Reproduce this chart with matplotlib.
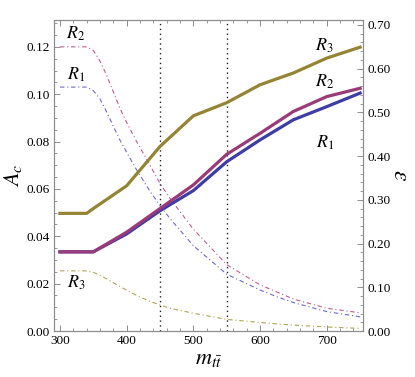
import numpy as np
import matplotlib
matplotlib.use('Agg')
import matplotlib.pyplot as plt

plt.rcParams['font.family'] = ['Liberation Serif', 'DejaVu Serif']
plt.rcParams['mathtext.fontset'] = 'stix'

# asymmetry A_c (left axis, dash-dot curves)
m_ac = [300, 340, 350, 360, 370, 380, 390, 400, 415, 435, 450, 465, 500, 550, 600, 625, 650, 700, 750]
ac_r1 = [0.103, 0.103, 0.1015, 0.098, 0.0925, 0.0865, 0.0806, 0.0755, 0.068, 0.059, 0.053, 0.0475, 0.036, 0.024, 0.0173, 0.0145, 0.012, 0.0082, 0.006]
ac_r2 = [0.120, 0.120, 0.1185, 0.114, 0.108, 0.101, 0.094, 0.088, 0.080, 0.070, 0.0623, 0.056, 0.043, 0.028, 0.0195, 0.0165, 0.0135, 0.0096, 0.0077]
ac_r3 = [0.0254, 0.0254, 0.0248, 0.0235, 0.022, 0.0204, 0.0188, 0.0172, 0.015, 0.0125, 0.011, 0.0096, 0.0075, 0.0049, 0.0036, 0.003, 0.0025, 0.0017, 0.0011]

# efficiency epsilon (right axis, solid curves)
m_eps = [300, 340, 350, 400, 450, 500, 550, 600, 650, 700, 750]
eps_r1 = [0.181, 0.181, 0.181, 0.222, 0.275, 0.321, 0.387, 0.437, 0.483, 0.513, 0.544]
eps_r2 = [0.181, 0.181, 0.181, 0.226, 0.280, 0.334, 0.404, 0.452, 0.502, 0.536, 0.555]
eps_r3 = [0.269, 0.269, 0.280, 0.332, 0.422, 0.492, 0.522, 0.563, 0.590, 0.624, 0.649]

cuts = [450, 550]

c_blue = '#3d3da6'
c_purp = '#9b3a78'
c_oliv = '#958433'
d_blue = '#6a6ad0'
d_purp = '#c45a90'
d_oliv = '#b3a455'
frame = '#8c8c8c'

fig = plt.figure(figsize=(4.15, 3.77), dpi=100)
ax = fig.add_axes([0.130, 0.122, 0.745, 0.826])
ax2 = ax.twinx()

dash = (0, (4, 2.5, 1, 2.5))
ax.plot(m_ac, ac_r1, color=d_blue, lw=0.8, linestyle=dash)
ax.plot(m_ac, ac_r2, color=d_purp, lw=0.8, linestyle=dash)
ax.plot(m_ac, ac_r3, color=d_oliv, lw=0.8, linestyle=dash)

for c in cuts:
    ax.axvline(c, color='#222222', lw=1.0, linestyle=(0, (1, 2.5)))

ax2.plot(m_eps, eps_r3, color=c_oliv, lw=2.3, solid_joinstyle='round')
ax2.plot(m_eps, eps_r1, color=c_blue, lw=2.3, solid_joinstyle='round')
ax2.plot(m_eps, eps_r2, color=c_purp, lw=2.3, solid_joinstyle='round')

ax.set_xlim(291, 754.5)
ax.set_ylim(0, 0.1315)
ax2.set_ylim(0, 0.712)

ax.set_xticks([300, 400, 500, 600, 700])
ax.set_xticks(np.arange(300, 760, 20), minor=True)
ax.set_yticks(np.arange(0, 0.121, 0.02))
ax.set_yticklabels(['%.2f' % v for v in np.arange(0, 0.121, 0.02)])
ax.set_yticks(np.arange(0, 0.131, 0.005), minor=True)
ax2.set_yticks(np.arange(0, 0.71, 0.1))
ax2.set_yticklabels(['%.2f' % v for v in np.arange(0, 0.71, 0.1)])
ax2.set_yticks(np.arange(0, 0.711, 0.02), minor=True)

for a in (ax, ax2):
    for s in a.spines.values():
        s.set_color(frame)
        s.set_linewidth(0.8)
ax.tick_params(axis='both', which='both', direction='in', color=frame, labelsize=9.5, pad=3)
ax.tick_params(axis='x', which='both', top=True)
ax.tick_params(which='major', length=4, width=0.7)
ax.tick_params(which='minor', length=2.3, width=0.6)
ax2.tick_params(axis='y', which='both', direction='in', color=frame, labelsize=9.5, pad=3)
ax2.tick_params(which='major', length=4, width=0.7)
ax2.tick_params(which='minor', length=2.3, width=0.6)

ax.set_xlabel(r'$m_{t\bar{t}}$', fontsize=16, labelpad=2)
ax.set_ylabel(r'$A_c$', fontsize=16, labelpad=2)
ax2.set_ylabel(r'$\varepsilon$', fontsize=17, rotation=-90, labelpad=14)

lab = dict(fontsize=13, ha='center', va='center')
ax.text(324, 0.1257, r'$R_2$', **lab)
ax.text(324, 0.108, r'$R_1$', **lab)
ax.text(324, 0.0203, r'$R_3$', **lab)
ax2.text(697, 0.652, r'$R_3$', **lab)
ax2.text(697, 0.570, r'$R_2$', **lab)
ax2.text(697, 0.430, r'$R_1$', **lab)

fig.savefig('out.png', dpi=100)
